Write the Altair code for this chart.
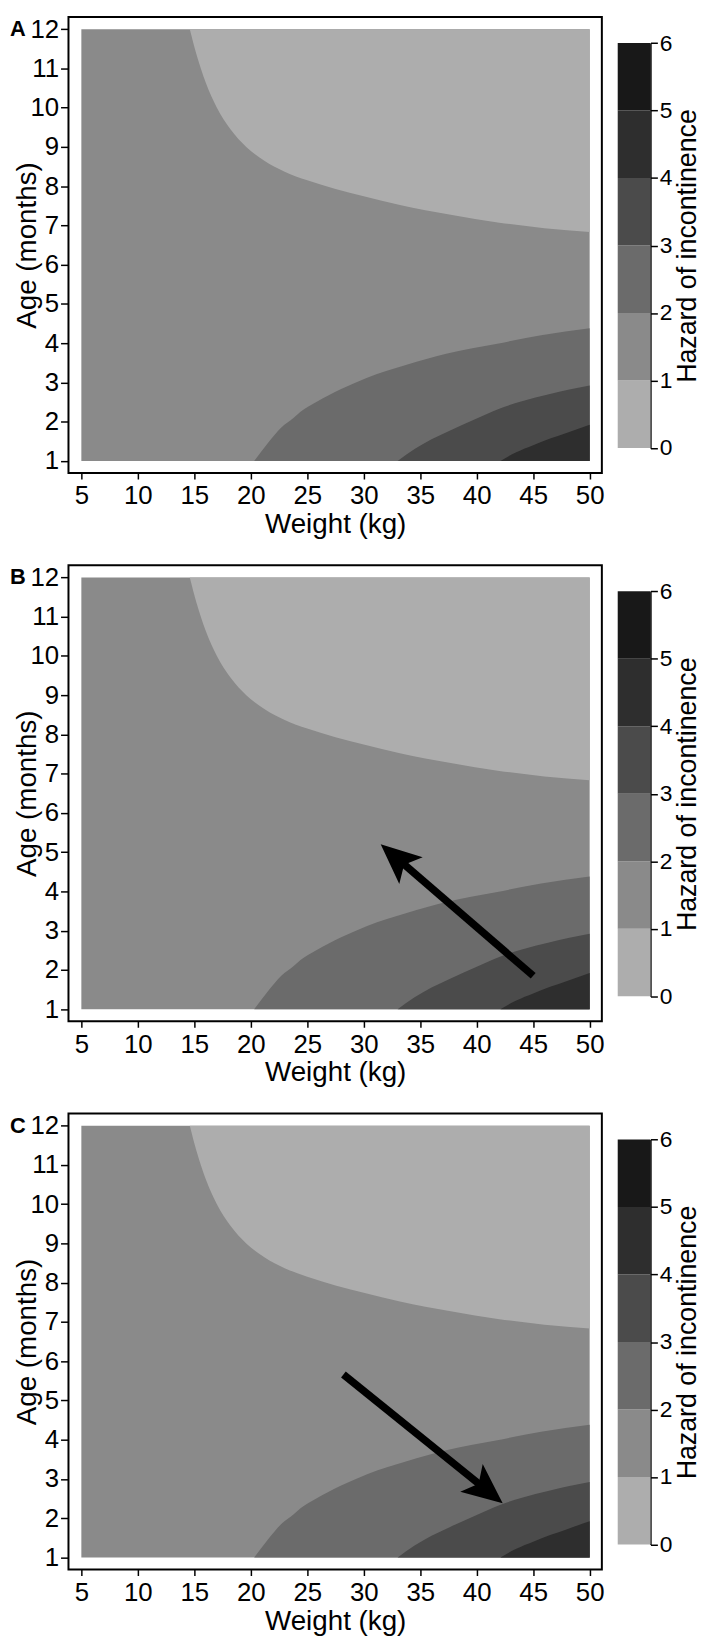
import altair as alt
import pandas as pd

FONT = "Liberation Sans"

# ---------------- data ----------------
weight_ticks = [5, 10, 15, 20, 25, 30, 35, 40, 45, 50]
age_ticks = [1, 2, 3, 4, 5, 6, 7, 8, 9, 10, 11, 12]
hazard_ticks = [0, 1, 2, 3, 4, 5, 6]

levels = ["0-1", "1-2", "2-3", "3-4", "4-5", "5-6"]
level_lo = [0, 1, 2, 3, 4, 5]
level_hi = [1, 2, 3, 4, 5, 6]
level_gray = ["#adadad", "#8a8a8a", "#6b6b6b", "#4b4b4b", "#2e2e2e", "#181818"]

grid_weight = [5, 50]
grid_age = [1, 12]

# contour hazard = 1 (region 0-1 lies above it)
c1_weight = [14.6, 15.2, 16.0, 17.0, 18.2, 19.6, 21.2, 23.0, 25.0, 27.5, 30.0, 33.2, 37.7, 42.0, 46.0, 50.0]
c1_age = [12.0, 11.35, 10.65, 10.0, 9.45, 9.0, 8.65, 8.37, 8.15, 7.93, 7.74, 7.52, 7.27, 7.07, 6.93, 6.83]
# contour hazard = 2 (region 2-3 lies below it)
c2_weight = [20.3, 21.5, 22.7, 23.8, 24.4, 25.8, 28.0, 30.3, 33.8, 37.3, 41.7, 45.7, 50.0]
c2_age = [1.0, 1.45, 1.85, 2.1, 2.25, 2.5, 2.83, 3.12, 3.45, 3.73, 3.98, 4.2, 4.38]
# contour hazard = 3 (region 3-4 lies below it)
c3_weight = [33.0, 34.5, 36.0, 37.6, 40.0, 42.0, 44.0, 46.4, 48.2, 50.0]
c3_age = [1.0, 1.3, 1.55, 1.77, 2.08, 2.33, 2.52, 2.7, 2.82, 2.92]
# contour hazard = 4 (region 4-5 lies below it)
c4_weight = [42.1, 43.5, 45.0, 46.5, 48.0, 50.0]
c4_age = [1.0, 1.22, 1.4, 1.57, 1.72, 1.92]

panels = ["A", "B", "C"]

arrow_panel = ["B", "C"]
arrow_tail_weight = [45.0, 28.2]
arrow_tail_age = [1.85, 5.66]
arrow_neck_weight = [33.37, 40.39]
arrow_neck_age = [4.74, 2.83]
arrow_tip_weight = [31.5, 42.3]
arrow_tip_age = [5.2, 2.38]
arrow_angle = [311, 129]

# ---------------- tables ----------------
base_df = pd.DataFrame({"weight": [grid_weight[0]], "weight_end": [grid_weight[1]],
                        "age": [grid_age[0]], "age_end": [grid_age[1]], "level": ["1-2"]})


def band(ws, lo, hi, level):
    return pd.DataFrame({"weight": ws, "age": lo, "age_end": hi, "level": [level] * len(ws)})


bands = [
    band(c1_weight, c1_age, [grid_age[1]] * len(c1_weight), "0-1"),
    band(c2_weight, [grid_age[0]] * len(c2_weight), c2_age, "2-3"),
    band(c3_weight, [grid_age[0]] * len(c3_weight), c3_age, "3-4"),
    band(c4_weight, [grid_age[0]] * len(c4_weight), c4_age, "4-5"),
]

cb_df = pd.DataFrame({"lo": level_lo, "hi": level_hi, "level": levels})

# ---------------- scales / axes ----------------
xs = alt.Scale(domain=[3.86, 51.08], nice=False, zero=False)
ys = alt.Scale(domain=[0.69, 12.31], nice=False, zero=False)
cs = alt.Scale(domain=levels, range=level_gray)

xaxis = alt.Axis(values=weight_ticks, title="Weight (kg)", grid=False, domain=False,
                 tickSize=6, tickWidth=1.5, labelFontSize=26, labelPadding=4,
                 labelFlush=False, labelOverlap=False,
                 titleFontSize=28, titlePadding=2)
yaxis = alt.Axis(values=age_ticks, title="Age (months)", grid=False, domain=False,
                 tickSize=8, tickWidth=1.5, labelFontSize=26, labelPadding=2,
                 labelOverlap=False, labelFlush=False,
                 titleFontSize=28, titleAngle=270, titleBaseline="alphabetic",
                 titleAlign="center", titleX=-33, titleY=230)


def X(field="weight"):
    return alt.X(f"{field}:Q", scale=xs, axis=xaxis)


def Y(field="age"):
    return alt.Y(f"{field}:Q", scale=ys, axis=yaxis)


color = alt.Color("level:N", scale=cs, legend=None)

W, H = 538, 460
ARROW_HEAD = "M0,0 L0.72,1.62 L0,1.25 L-0.72,1.62 Z"


def panel(letter):
    layers = [
        alt.Chart(base_df).mark_rect().encode(x=X(), x2="weight_end:Q", y=Y(), y2="age_end:Q", color=color)
    ]
    for b in bands:
        layers.append(
            alt.Chart(b).mark_area(interpolate="monotone").encode(
                x=X(), y=Y(), y2="age_end:Q", color=color)
        )
    if letter in arrow_panel:
        i = arrow_panel.index(letter)
        shaft = pd.DataFrame({"weight": [arrow_tail_weight[i]], "age": [arrow_tail_age[i]],
                              "weight_end": [arrow_neck_weight[i]], "age_end": [arrow_neck_age[i]]})
        head = pd.DataFrame({"weight": [arrow_tip_weight[i]], "age": [arrow_tip_age[i]]})
        layers.append(
            alt.Chart(shaft).mark_rule(color="black", strokeWidth=7.5, strokeCap="butt").encode(
                x=X(), y=Y(), x2="weight_end:Q", y2="age_end:Q")
        )
        layers.append(
            alt.Chart(head).mark_point(shape=ARROW_HEAD, size=2500, filled=True, fill="black",
                                       strokeWidth=0, opacity=1, angle=arrow_angle[i]).encode(
                x=X(), y=Y())
        )
    lab = pd.DataFrame({"panel": [letter]})
    layers.append(
        alt.Chart(lab).mark_text(align="left", baseline="middle", fontSize=22, fontWeight="bold",
                                 color="black").encode(
            x=alt.value(-59), y=alt.value(12.3), text="panel:N")
    )
    return alt.layer(*layers).properties(width=W, height=H)


def colorbar():
    cb_axis = alt.Axis(orient="right", values=hazard_ticks, title="Hazard of incontinence",
                       grid=False, domain=True, domainWidth=1.5, tickSize=7, tickWidth=1.5,
                       labelFontSize=23, labelPadding=2, labelOverlap=False, labelFlush=False,
                       titleFontSize=27, titleAngle=270, titleBaseline="alphabetic",
                       titleAlign="center", titleX=45, titleY=230.5)
    return alt.Chart(cb_df).mark_rect().encode(
        x=alt.value(0), x2=alt.value(33),
        y=alt.Y("lo:Q", scale=alt.Scale(domain=[0, 6], range=[434.7, 26.3], nice=False, zero=False),
                axis=cb_axis),
        y2="hi:Q",
        color=color,
    ).properties(width=33, height=H, view=alt.ViewBackground(stroke="transparent"))


rows = [alt.hconcat(panel(p), colorbar(), spacing=11) for p in panels]

chart = alt.vconcat(*rows, spacing=24).properties(
    padding={"left": 1, "top": 0, "right": 0, "bottom": 0}
).configure_view(
    stroke="black", strokeWidth=2
).configure_axis(
    labelFont=FONT, titleFont=FONT, labelColor="black", titleColor="black",
    tickColor="black", domainColor="black", titleFontWeight="normal"
).configure_text(font=FONT)

chart.save("out.html", embed_options={"renderer": "svg", "actions": False})
